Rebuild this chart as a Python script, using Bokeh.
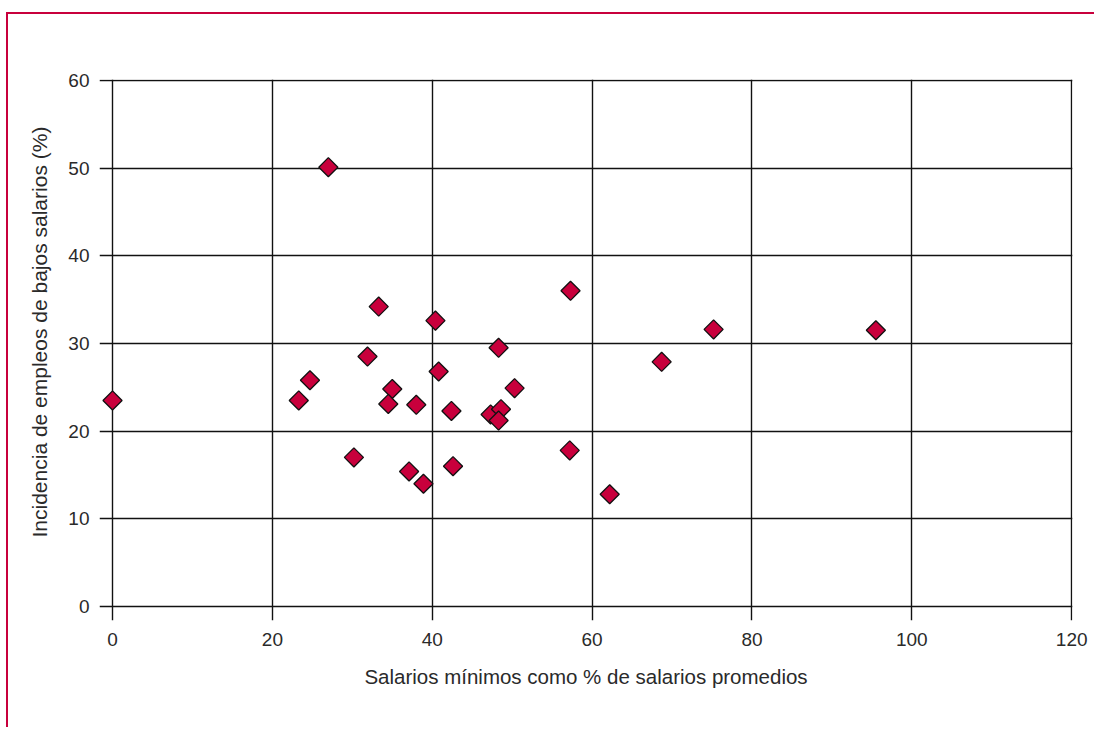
from bokeh.plotting import figure
from bokeh.models import Range1d, FixedTicker, Title
from bokeh.embed import file_html
from bokeh.resources import INLINE
import numpy as np

# Data
salario_minimo = [0.0, 27.0, 23.3, 24.7, 30.2, 31.9, 33.3, 35.0, 34.5, 37.1,
                  38.0, 38.9, 40.4, 40.8, 42.4, 42.6, 48.3, 50.3, 47.3, 48.6,
                  48.3, 57.3, 57.2, 62.2, 68.7, 75.2, 95.5]
incidencia = [23.5, 50.1, 23.5, 25.8, 17.0, 28.5, 34.2, 24.8, 23.1, 15.4,
              23.0, 14.0, 32.6, 26.8, 22.3, 16.0, 29.5, 24.9, 21.9, 22.5,
              21.2, 36.0, 17.8, 12.8, 27.9, 31.6, 31.5]
x_ticks = [0, 20, 40, 60, 80, 100, 120]
y_ticks = [0, 10, 20, 30, 40, 50, 60]
x_title = "Salarios mínimos como % de salarios promedios"
y_title = "Incidencia de empleos de bajos salarios (%)"

FONT = "Liberation Sans"
TXT = "#2a2a2a"
RED = "#C8003C"

p = figure(width=1088, height=715, output_backend="svg", toolbar_location=None,
           x_range=Range1d(-1.63, 120.1), y_range=Range1d(-1.6, 60.1),
           min_border_left=91, min_border_right=24, min_border_top=65,
           min_border_bottom=109)
p.outline_line_color = None
p.background_fill_color = "white"
p.border_fill_color = "white"
p.styles = {"border-top": "2px solid #C8003C", "border-left": "2px solid #C8003C",
            "margin-top": "12px", "margin-left": "6px"}

for ax in (p.xaxis[0], p.yaxis[0]):
    ax.axis_line_color = None
    ax.major_tick_line_color = None
    ax.minor_tick_line_color = None
    ax.major_tick_out = 0
    ax.major_tick_in = 0
    ax.minor_tick_out = 0
    ax.major_label_text_font = FONT
    ax.major_label_text_font_size = "19px"
    ax.major_label_text_color = TXT
    ax.axis_label_text_font = FONT
    ax.axis_label_text_font_size = "20.5px"
    ax.axis_label_text_font_style = "normal"
    ax.axis_label_text_color = TXT

p.xaxis.ticker = FixedTicker(ticks=x_ticks)
p.yaxis.ticker = FixedTicker(ticks=y_ticks)
p.xaxis.major_label_standoff = 12
p.yaxis.major_label_standoff = 10
p.xaxis.axis_label = x_title
p.xaxis.axis_label_standoff = 16

ytitle = Title(text=y_title, align="left", offset=83, standoff=30,
               text_font=FONT, text_font_size="21px", text_font_style="normal",
               text_color=TXT)
p.add_layout(ytitle, "left")

p.xgrid.ticker = FixedTicker(ticks=x_ticks)
p.ygrid.ticker = FixedTicker(ticks=y_ticks)
for g in (p.xgrid[0], p.ygrid[0]):
    g.grid_line_color = "#111111"
    g.grid_line_width = 1.4

p.scatter(salario_minimo, incidencia, marker="square", angle=np.pi / 4, size=13.5,
          fill_color=RED, line_color="#111111", line_width=1.3)

open("out.html", "w").write(file_html(p, INLINE))
